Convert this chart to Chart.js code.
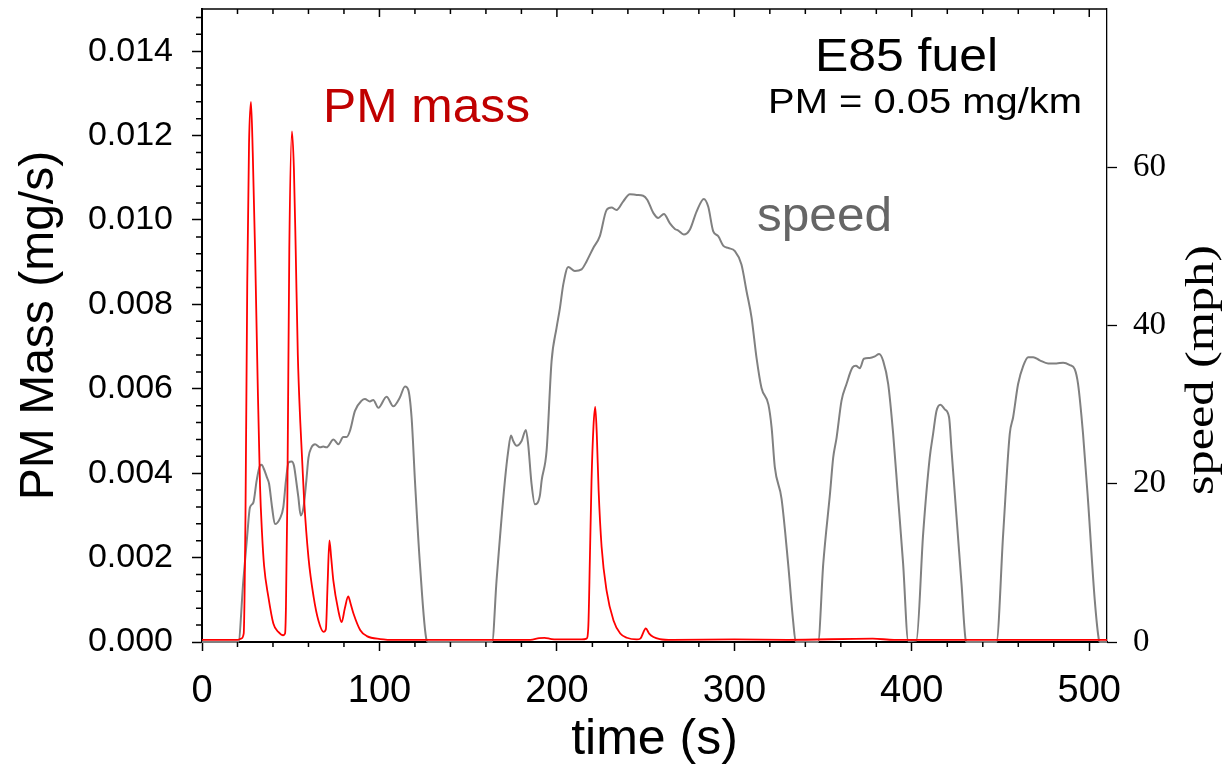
<!DOCTYPE html>
<html>
<head>
<meta charset="utf-8">
<script src="https://cdn.jsdelivr.net/npm/chart.js@4.4.0/dist/chart.umd.min.js"></script>
<style>
html,body{margin:0;padding:0;background:#fff;}
canvas{display:block;}
</style>
</head>
<body>
<canvas id="pm_chart" width="1225" height="774"></canvas>
<script>
// PM mass (mg/s)
let pmTime=[0,10,20,22,23.5,24.5,25.5,26.5,27.6,28.6,29.9,31.3,32.7,33.8,35,37.4,40.2,43,45.8,46.8,
	47.3,48.1,49.2,50.7,51.8,52.8,54,55.4,57.5,60,62.9,65.6,68.5,69.8,70.8,71.8,72.8,74,76.8,78.7,
	80.5,82.4,83.8,85.4,89.2,92.9,100.4,110,150,185,190,193,197,205,214,216.7,217.7,218.6,219.5,220.6,
	221.6,222.5,223.5,225.2,228,231.9,235.7,239.4,245,247,250.1,252,254.4,258,265,300,330,378,390,510];
let pmMass=[0.00005,0.00005,0.00005,0.00008,0.0002,0.003,0.0085,0.0118,0.0128,0.0116,0.0093,0.0063,0.0037,0.0026,0.0018,0.00107,0.00044,0.00024,0.00016,0.0002,
	0.0008,0.0034,0.0093,0.0121,0.0112,0.0093,0.0068,0.0052,0.0034,0.0020,0.00107,0.00051,0.00024,0.0003,0.0014,0.00241,0.0020,0.00146,0.00075,0.00047,
	0.0008,0.00108,0.0009,0.00067,0.00028,0.00014,0.00007,0.00005,0.00005,0.00005,0.00009,0.0001,0.00007,0.00006,0.00006,0.00008,0.00036,0.002,0.0038,0.0051,
	0.00557,0.0049,0.0036,0.00225,0.00122,0.00051,0.0002,0.0001,0.00006,0.00008,0.00032,0.0002,0.00012,0.00007,0.00005,0.00006,0.00005,0.00008,0.00005,0.00005];

// vehicle speed (mph)
let speedTime=[0,20.5,23.3,25.5,27,28.9,30.8,32.7,33.6,35,36.6,37.8,39.5,41.1,43.9,45.8,47.3,48.8,50.5,51.8,
	53.3,54.3,55.6,57.2,58.8,60,61.7,63.7,66.5,68.3,70.2,74.1,76.9,79.6,81.5,83.4,86.2,90,91.8,94.6,
	96.5,99.4,104,107.8,111.5,114.4,116.2,118.1,120.1,122.8,126.6,127.5,163.5,166,170.7,172.6,174.1,175.4,177.3,180.1,
	182.5,183.8,185.7,187.6,190.4,191.4,194.2,197,199.8,201.7,203.6,206.4,210.1,213.9,216.7,220.5,224.2,228,230.8,233.6,
	237.4,241.1,244.9,248.6,250.9,254.4,257.1,260.3,263.7,266.5,268.4,271.5,274.9,278.7,282.8,285.3,288.1,290.9,293.7,296.5,
	300.3,304,306.9,309.7,312.5,315.3,319.2,321,322.8,326.6,330.3,333.1,334.6,347.2,350.1,354,355.7,357.6,360.4,363.2,
	366.6,368.5,370.7,373,376.3,379.2,381.6,383.9,386.7,389.5,392,395.1,398,402.6,406.4,410.1,412,413.9,416.1,418.6,
	421,422.4,425.2,428,430.4,431,447.7,451.5,455.2,457.1,459.9,462.8,465.6,468.4,472.1,476.8,481.5,485.3,489.1,491.8,
	493.7,496.5,499.3,503.1,505.5,506,510];
let speedMph=[0,0,7.8,13.5,17,17.6,20.4,22.3,22.4,21.8,20.8,20,17,14.9,15.6,17,20.4,22.7,22.8,22.3,
	20,18.3,16,17,20.4,23.3,24.6,25,24.6,24.7,24.6,25.6,25,25.9,25.9,26.7,29.2,30.5,30.7,30.4,
	30.6,29.6,31,29.8,30.9,32.3,31.9,28.4,20,9.9,0.2,0,0,7.8,20.4,24.2,26.1,25.4,24.8,25.4,
	26.8,25,20,17.4,18.5,20.4,24.2,35.5,39.7,42.2,45.2,47.4,46.9,47.1,48.1,49.8,51.3,54.6,54.9,54.6,
	55.7,56.6,56.5,56.4,55.9,54.2,53.6,54.1,52.9,52.2,52,51.5,52.1,54.4,56,55,51.9,51.3,50.1,49.8,
	49.4,47.7,44.3,41,35.9,32.1,30,27.1,22.1,18.1,9.9,2.7,0,0,9.9,19,23.3,25.8,30.5,32.6,
	34.7,34.9,34.6,35.8,35.9,36.1,36.4,35.5,32.6,26.3,19,9.9,0.1,0.2,13.7,23.3,26.3,29.2,30,29.4,
	28.4,24.2,15.8,7.4,0.2,0,0,13.7,26.3,28.4,32.6,34.9,36,36,35.6,35.2,35.2,35.3,35,34.5,
	32.6,26.3,17.9,5.3,0.2,0,0];

let timeTicks=[0,100,200,300,400,500];
let pmTicks=[0,0.002,0.004,0.006,0.008,0.010,0.012,0.014];
let speedTicks=[0,20,40,60];

let pmLabel="PM mass";
let speedLabel="speed";
let fuelLabel="E85 fuel";
let pmTotalLabel="PM = 0.05 mg/km";
let speedAxisTitle="speed (mph)";

let sans="'Liberation Sans', Arial, sans-serif";
let serif="'Liberation Serif', 'Times New Roman', serif";

function toPoints(xs,ys){
	return xs.map((x,i)=>({x:x,y:ys[i]}));
}

// text squeezed/stretched along its own direction to a given width
function stretchText(ctx,text,x,y,font,width,angle){
	ctx.save();
	ctx.font=font;
	let w=ctx.measureText(text).width;
	ctx.translate(x,y);
	if(angle) ctx.rotate(angle);
	ctx.scale(width/w,1);
	ctx.fillText(text,0,0);
	ctx.restore();
}

// minor ticks, top frame and the free text
let decorPlugin={
	id:'decor',
	afterDraw(chart){
		let ctx=chart.ctx;
		let area=chart.chartArea;
		let xs=chart.scales.x, ys=chart.scales.y;
		ctx.save();
		ctx.strokeStyle='#000';
		ctx.lineWidth=1.5;
		ctx.beginPath();
		ctx.moveTo(area.left,area.top);
		ctx.lineTo(area.right,area.top);
		ctx.stroke();
		ctx.beginPath();
		for(let t=0;t<=510;t+=20){
			let px=xs.getPixelForValue(t);
			let major=(t%100===0);
			ctx.moveTo(px,area.top);
			ctx.lineTo(px,area.top+(major?8:5));
			if(!major){
				ctx.moveTo(px,area.bottom);
				ctx.lineTo(px,area.bottom+5);
			}
		}
		for(let k=1;k*0.0004<0.015;k++){
			if(k%5===0) continue;
			let py=ys.getPixelForValue(k*0.0004);
			ctx.moveTo(area.left,py);
			ctx.lineTo(area.left-6,py);
		}
		ctx.stroke();

		ctx.textBaseline='alphabetic';
		ctx.textAlign='left';
		ctx.fillStyle='#c00000';
		stretchText(ctx,pmLabel,323,122,"48px "+sans,207);
		ctx.fillStyle='#666666';
		stretchText(ctx,speedLabel,757,231,"48px "+sans,135);
		ctx.fillStyle='#000';
		stretchText(ctx,fuelLabel,815,71,"47px "+sans,183);
		stretchText(ctx,pmTotalLabel,768,113,"35px "+sans,314);

		// right axis title, reads bottom to top
		ctx.textAlign='center';
		ctx.textBaseline='middle';
		stretchText(ctx,speedAxisTitle,1202,370,"40px "+serif,250,-Math.PI/2);
		ctx.restore();
	}
};

new Chart(document.getElementById("pm_chart").getContext("2d"),{
	type:'line',
	data:{
		datasets:[{
			label:'PM mass',
			data:toPoints(pmTime,pmMass),
			yAxisID:'y',
			borderColor:'#ff0000',
			borderWidth:1.8,
			pointRadius:0,
			cubicInterpolationMode:'monotone',
			clip:3,
			order:0
		},{
			label:'speed',
			data:toPoints(speedTime,speedMph),
			yAxisID:'y2',
			borderColor:'#808080',
			borderWidth:2,
			pointRadius:0,
			cubicInterpolationMode:'monotone',
			clip:3,
			order:1
		}]
	},
	options:{
		responsive:false,
		animation:false,
		devicePixelRatio:1,
		layout:{padding:{top:9,left:0,right:0,bottom:0}},
		plugins:{legend:{display:false},tooltip:{enabled:false}},
		scales:{
			x:{
				type:'linear',
				position:'bottom',
				min:0,max:510,
				afterBuildTicks:s=>{s.ticks=timeTicks.map(v=>({value:v}));},
				afterFit:s=>{s.height=132;s.paddingLeft=0;s.paddingRight=0;},
				ticks:{font:{family:sans,size:38},color:'#000',padding:18,maxRotation:0},
				grid:{drawOnChartArea:false,tickLength:9,tickColor:'#000',tickWidth:1.5},
				border:{color:'#000',width:2},
				title:{display:true,text:'time (s)',font:{family:sans,size:50},color:'#000',padding:{top:0,bottom:4}}
			},
			y:{
				type:'linear',
				position:'left',
				min:0,max:0.015,
				afterBuildTicks:s=>{s.ticks=pmTicks.map(v=>({value:v}));},
				afterFit:s=>{s.width=202;s.paddingTop=0;s.paddingBottom=0;},
				ticks:{font:{family:sans,size:34},color:'#000',padding:19,callback:v=>v.toFixed(3)},
				grid:{drawOnChartArea:false,tickLength:10,tickColor:'#000',tickWidth:1.5},
				border:{color:'#000',width:2},
				title:{display:true,text:'PM Mass (mg/s)',font:{family:sans,size:48},color:'#000',padding:{top:11,bottom:0}}
			},
			y2:{
				type:'linear',
				position:'right',
				min:0,max:80,
				afterBuildTicks:s=>{s.ticks=speedTicks.map(v=>({value:v}));},
				afterFit:s=>{s.width=118;s.paddingTop=0;s.paddingBottom=0;},
				ticks:{font:{family:serif,size:33},color:'#000',padding:16},
				grid:{drawOnChartArea:false,tickLength:10,tickColor:'#000',tickWidth:1.3},
				border:{color:'#000',width:1.3}
			}
		}
	},
	plugins:[decorPlugin]
});
</script>
</body>
</html>
